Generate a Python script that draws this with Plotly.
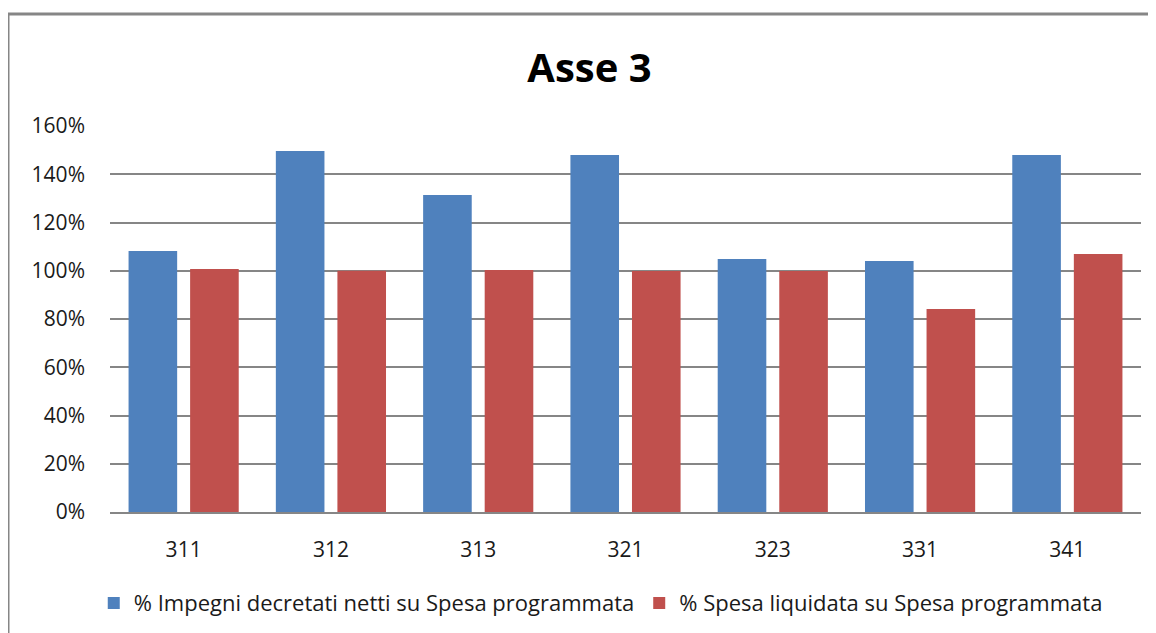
import plotly.graph_objects as go

# Data (fractions, shown as %)
categories = ["311", "312", "313", "321", "323", "331", "341"]
impegni = [1.082, 1.496, 1.314, 1.480, 1.049, 1.040, 1.480]
liquidata = [1.007, 1.000, 1.003, 0.999, 0.999, 0.841, 1.069]
series_names = [
    "% Impegni decretati netti su Spesa programmata",
    "% Spesa liquidata su Spesa programmata",
]

BLUE = "#4F81BD"
RED = "#C0504D"
GRID = "#868686"
TEXT = "#1a1a1a"
FONT = "Open Sans"

# plot area geometry (page has an 8px body margin)
L, T, PW, PH = 102, 118, 1031, 386

fig = go.Figure()
fig.add_bar(
    name=series_names[0], x=categories, y=impegni,
    marker={"color": BLUE, "line": {"width": 0}},
    width=0.33, offset=-0.374,
)
fig.add_bar(
    name=series_names[1], x=categories, y=liquidata,
    marker={"color": RED, "line": {"width": 0}},
    width=0.33, offset=0.044,
)

fig.update_layout(
    width=1156,
    height=633,
    margin={"l": L, "r": 1156 - L - PW, "t": T, "b": 633 - T - PH, "autoexpand": False},
    paper_bgcolor="white",
    plot_bgcolor="white",
    barmode="group",
    font={"family": FONT, "color": TEXT, "size": 21},
    title={
        "text": "Asse 3",
        "x": 0.503,
        "xanchor": "center",
        "y": 1 - 60 / 633,
        "yanchor": "middle",
        "font": {"family": FONT, "size": 40, "color": "black", "weight": 700},
    },
    legend={
        "orientation": "h",
        "x": 0.476,
        "xanchor": "center",
        "y": -0.236,
        "yanchor": "middle",
        "font": {"size": 22, "color": TEXT},
        "itemwidth": 30,
        "tracegroupgap": 0,
    },
    showlegend=True,
)

fig.update_yaxes(
    range=[0, 1.6],
    dtick=0.2,
    tickformat=".0%",
    showgrid=True,
    gridcolor=GRID,
    gridwidth=1.5,
    zeroline=False,
    showline=False,
    ticks="",
    ticklabelstandoff=24,
)
fig.update_xaxes(
    showgrid=False,
    showline=True,
    linecolor=GRID,
    linewidth=1.5,
    ticks="",
    ticklabelstandoff=18,
)

# outer chart frame (grey border, partly cut by the image edge)
fig.add_shape(
    type="rect", xref="paper", yref="paper",
    x0=(0 - L) / PW, x1=(1160 - L) / PW,
    y0=(T + PH - 645) / PH, y1=(T + PH - 6) / PH,
    line={"color": GRID, "width": 3},
    fillcolor="rgba(0,0,0,0)",
    layer="below",
)

fig.write_html("out.html")
